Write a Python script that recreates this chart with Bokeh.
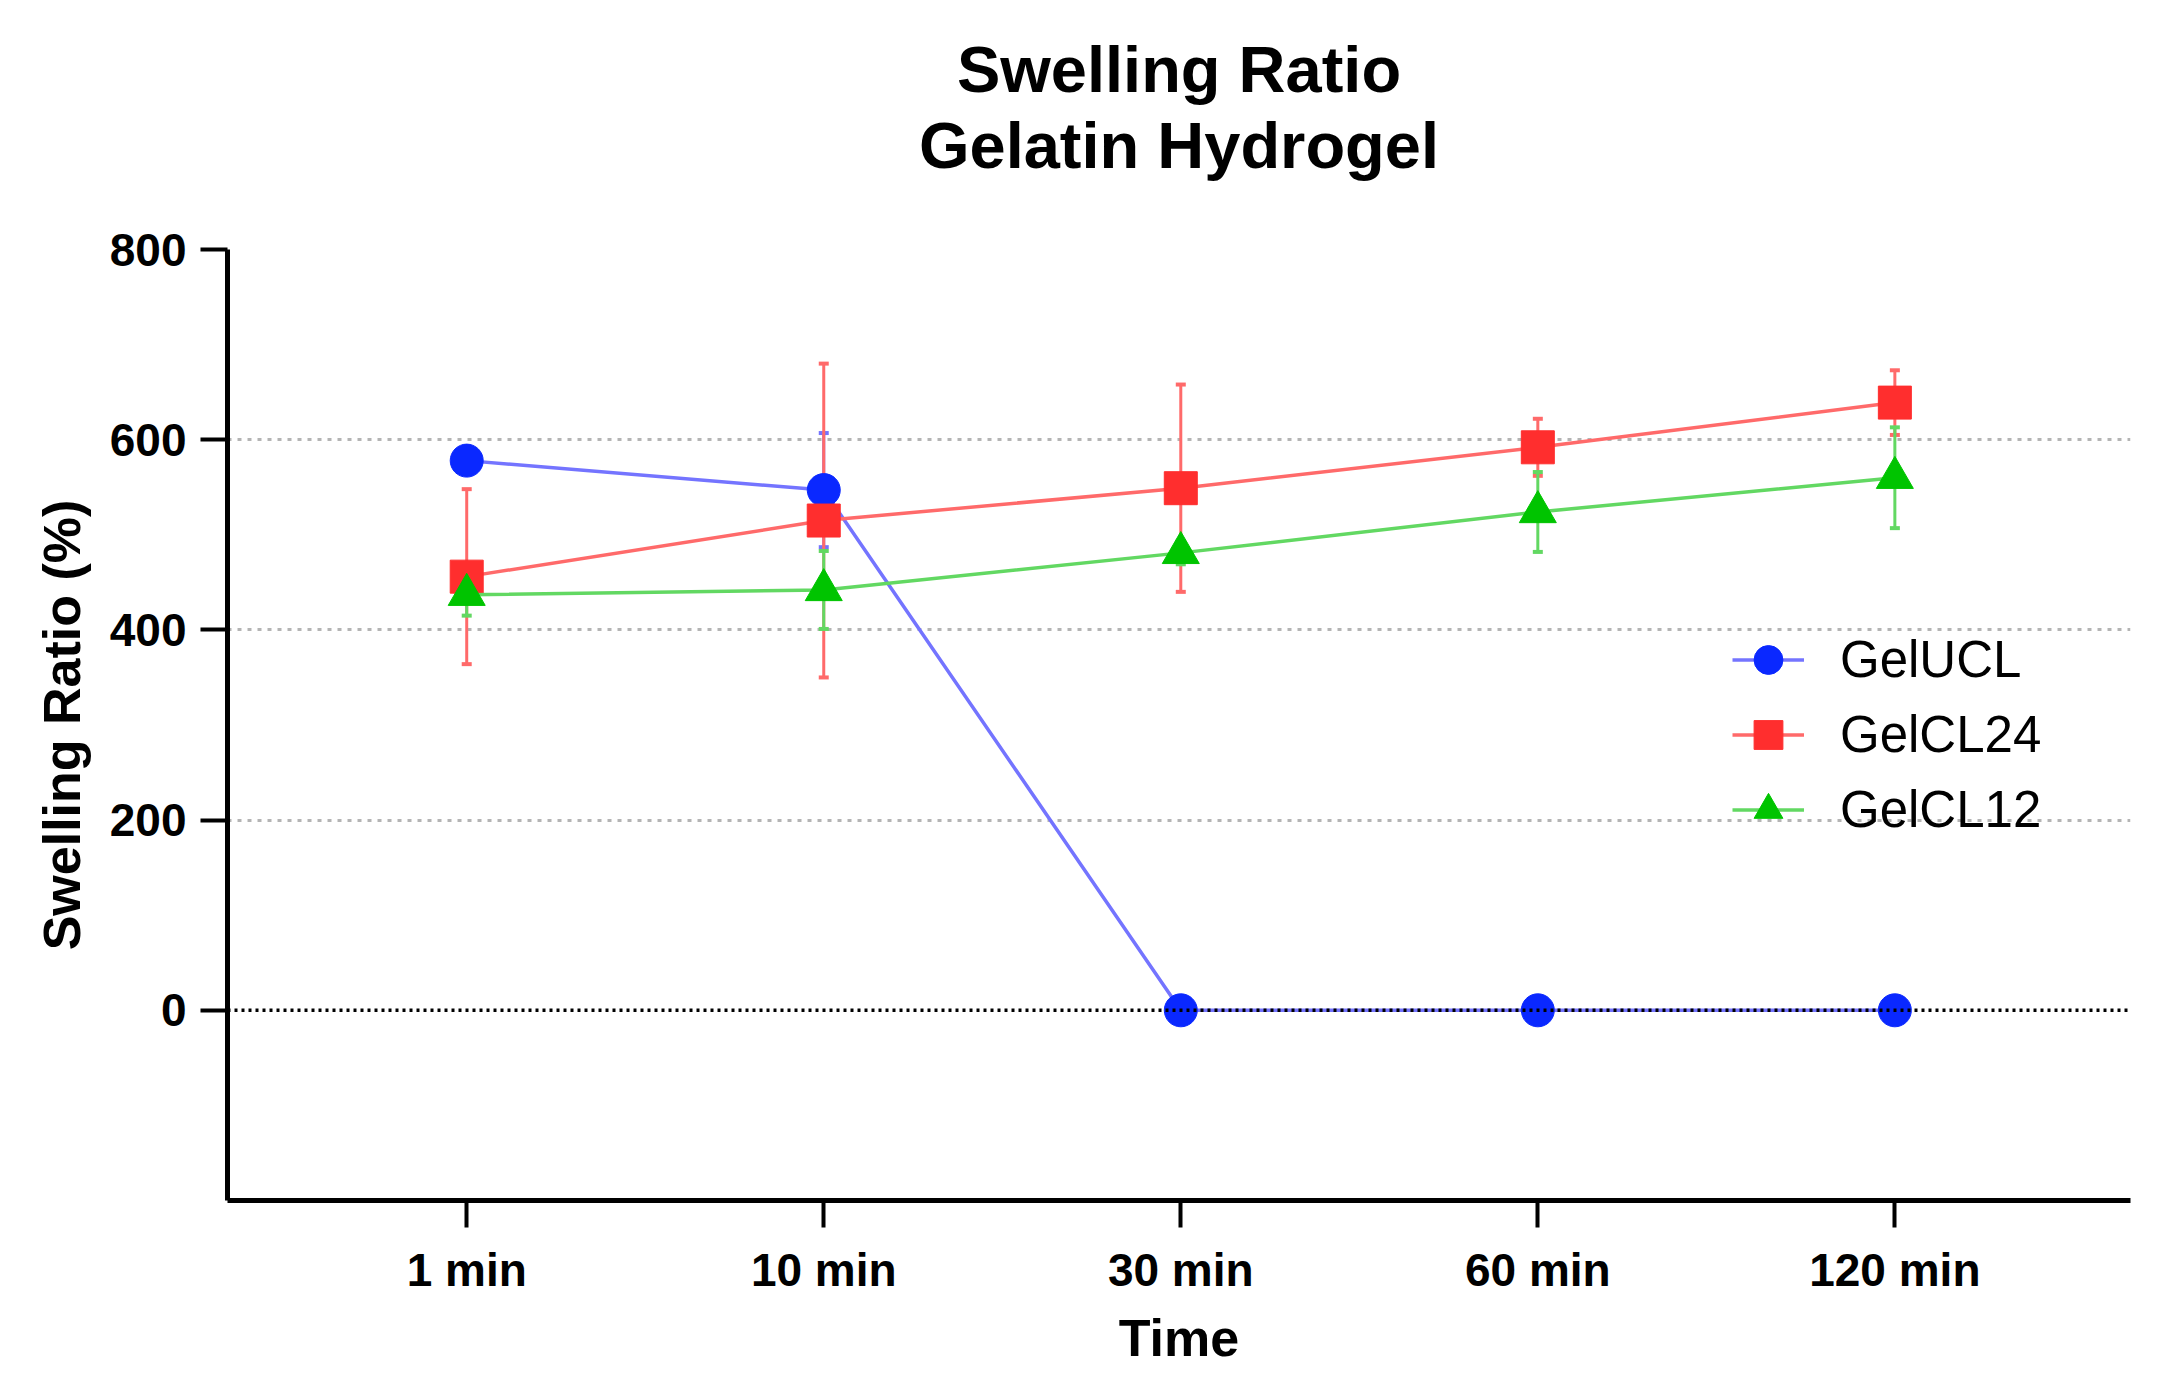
from bokeh.plotting import figure
from bokeh.models import (Range1d, FixedTicker, Span, Legend, LegendItem, LinearAxis,
                          Whisker, TeeHead, ColumnDataSource)
from bokeh.embed import file_html
from bokeh.resources import INLINE

# data
times = ["1 min", "10 min", "30 min", "60 min", "120 min"]
gel_ucl = [578, 547, 0, 0, 0]
gel_ucl_err = [0, 60, 0, 0, 0]
gel_cl24 = [456, 515, 549, 592, 639]
gel_cl24_err = [92, 165, 109, 30, 34]
gel_cl12 = [437, 442, 481, 524, 560]
gel_cl12_err = [22, 41, 12, 42, 53]
y_ticks = [0, 200, 400, 600, 800]
title_lines = ["Swelling Ratio", "Gelatin Hydrogel"]

FONT = "Liberation Sans"
xs = list(range(len(times)))

p = figure(width=2160, height=1371, title=None,
           x_range=Range1d(-0.67, 4.66), y_range=Range1d(-200, 800),
           output_backend="svg", toolbar_location=None,
           min_border_left=227, min_border_right=30,
           min_border_top=249, min_border_bottom=171)
p.outline_line_color = None

xax = p.below[0]
yax = p.left[0]

# axes
for ax in (xax, yax):
    ax.axis_line_width = 5
    ax.major_tick_line_width = 4
    ax.major_tick_out = 27
    ax.major_tick_in = 0
    ax.minor_tick_line_color = None
    ax.major_label_text_font = FONT
    ax.major_label_text_font_style = "bold"
    ax.major_label_text_font_size = "46px"
    ax.major_label_text_color = "black"
    ax.axis_label_text_font = FONT
    ax.axis_label_text_font_style = "bold"
    ax.axis_label_text_font_size = "52px"
    ax.axis_label_text_color = "black"

xax.ticker = FixedTicker(ticks=xs)
xax.major_label_overrides = {i: t for i, t in enumerate(times)}
xax.axis_label = "Time"
xax.major_label_standoff = 16
xax.axis_label_standoff = 10

yax.ticker = FixedTicker(ticks=y_ticks)
yax.axis_label = "Swelling Ratio (%)"
yax.major_label_standoff = 14
yax.axis_label_standoff = 16

# title lines as labels of bare axes above the frame (first added is nearest)
for line, standoff in zip(reversed(title_lines), [68, 0]):
    tax = LinearAxis(axis_label=line, ticker=FixedTicker(ticks=[]),
                     axis_line_color=None, major_tick_line_color=None,
                     minor_tick_line_color=None, major_tick_out=0, major_tick_in=0,
                     major_label_standoff=0, axis_label_standoff=standoff,
                     axis_label_text_font=FONT, axis_label_text_font_size="65px",
                     axis_label_text_font_style="bold", axis_label_text_color="black")
    p.add_layout(tax, "above")

p.xgrid.visible = False
p.ygrid.ticker = FixedTicker(ticks=[t for t in y_ticks if t != 0])
p.ygrid.grid_line_color = "#b4b4b4"
p.ygrid.grid_line_width = 3
p.ygrid.grid_line_dash = "4 6"

p.add_layout(Span(location=0, dimension="width", line_color="black",
                  line_width=3.5, line_dash="3 4"))

series = [
    ("GelUCL", gel_ucl, gel_ucl_err, "#7474ff", "#0a28ff", "circle", 33),
    ("GelCL24", gel_cl24, gel_cl24_err, "#ff6a6a", "#ff2e2e", "square", 33),
    ("GelCL12", gel_cl12, gel_cl12_err, "#62d862", "#00c400", "triangle", 37),
]

items = []
for name, vals, errs, lcol, mcol, marker, size in series:
    src = ColumnDataSource(dict(x=xs, upper=[v + e for v, e in zip(vals, errs)],
                                lower=[v - e for v, e in zip(vals, errs)]))
    w = Whisker(source=src, base="x", upper="upper", lower="lower",
                line_color=lcol, line_width=3,
                upper_head=TeeHead(size=10, line_color=lcol, line_width=4),
                lower_head=TeeHead(size=10, line_color=lcol, line_width=4))
    p.add_layout(w)
    ln = p.line(xs, vals, line_color=lcol, line_width=3.5)
    mk = p.scatter(xs, vals, marker=marker, size=size, fill_color=mcol, line_color=mcol)
    items.append(LegendItem(label=name, renderers=[ln, mk]))

legend = Legend(items=items, location=(1505, 353), label_text_font=FONT,
                label_text_font_size="51px", label_text_color="black",
                glyph_width=72, glyph_height=75, label_height=60,
                spacing=0, padding=0, margin=0, label_standoff=36,
                background_fill_alpha=0, border_line_alpha=0)
p.add_layout(legend)

open("out.html", "w").write(file_html(p, INLINE))
